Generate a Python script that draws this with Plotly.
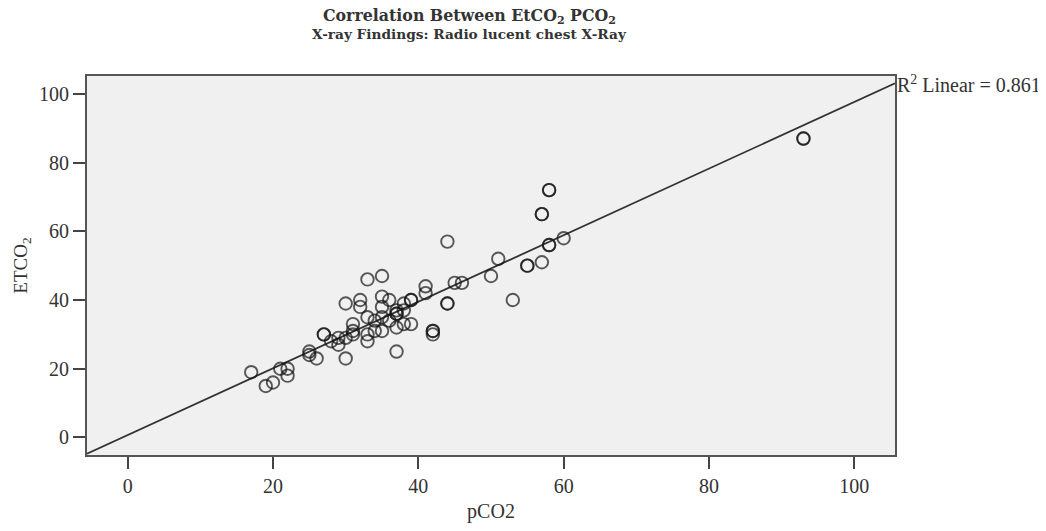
import numpy as np
import plotly.graph_objects as go

# Data (pCO2, ETCO2)
pco2 = [17, 19, 20, 21, 22, 22, 25, 25, 26, 27, 27, 28, 29, 29, 30, 30, 30,
        31, 31, 31, 32, 32, 33, 33, 33, 33, 34, 34, 35, 35, 35, 35, 35, 36, 36,
        37, 37, 37, 37, 37, 38, 38, 38, 39, 39, 39, 41, 41, 42, 42, 42, 44, 44,
        44, 45, 46, 50, 51, 53, 55, 55, 57, 57, 57, 58, 58, 58, 58, 60, 93, 93]
etco2 = [19, 15, 16, 20, 20, 18, 25, 24, 23, 30, 30, 28, 27, 29, 23, 29, 39,
         33, 31, 30, 40, 38, 46, 35, 28, 30, 34, 31, 47, 41, 38, 35, 31, 40, 34,
         36, 36, 37, 32, 25, 39, 33, 37, 40, 40, 33, 44, 42, 31, 30, 31, 57, 39,
         39, 45, 45, 47, 52, 40, 50, 50, 65, 65, 51, 72, 72, 56, 56, 58, 87, 87]

x_range = [-5.6, 105.6]
y_range = [-5.1, 105.2]
tick_vals = [0, 20, 40, 60, 80, 100]
r2_label = "R<sup>2</sup> Linear = 0.861"

slope, intercept = np.polyfit(pco2, etco2, 1)
fit_x = np.array(x_range)
fit_y = intercept + slope * fit_x

FONT = "Liberation Serif"
TITLE_FONT = "DejaVu Serif"
TXT = "#333333"
fig = go.Figure()
fig.add_trace(go.Scatter(
    x=fit_x, y=fit_y, mode="lines",
    line=dict(color="#333333", width=1.8), hoverinfo="skip", showlegend=False))
fig.add_trace(go.Scatter(
    x=pco2, y=etco2, mode="markers",
    marker=dict(symbol="circle-open", size=12.5, color="rgba(20,20,20,0.7)",
                line=dict(width=1.9)),
    showlegend=False))

axis_common = dict(
    showgrid=False, zeroline=False, showline=True, mirror=True,
    linecolor="#555555", linewidth=2, ticks="outside", ticklen=12,
    tickwidth=2, tickcolor="#444444", tickvals=tick_vals,
    tickfont=dict(family=FONT, size=20, color=TXT))

fig.update_xaxes(range=x_range, title=dict(text="pCO2", standoff=8,
                 font=dict(family=FONT, size=20, color=TXT)), **axis_common)
fig.update_yaxes(range=y_range, title=dict(text="ETCO<sub>2</sub>", standoff=6,
                 font=dict(family=FONT, size=19, color=TXT)), **axis_common)

fig.add_annotation(x=0.473, y=1.0, xref="paper", yref="paper", yanchor="middle",
                   yshift=60,
                   text="<b>Correlation Between EtCO<sub>2</sub> PCO<sub>2</sub></b>",
                   showarrow=False, font=dict(family=TITLE_FONT, size=15.8, color=TXT))
fig.add_annotation(x=0.473, y=1.0, xref="paper", yref="paper", yanchor="middle",
                   yshift=42,
                   text="<b>X-ray Findings: Radio lucent chest X-Ray</b>",
                   showarrow=False, font=dict(family=TITLE_FONT, size=13.7, color=TXT))
fig.add_annotation(x=1.0, y=1.0, xref="paper", yref="paper", xanchor="left",
                   yanchor="middle", yshift=-8, xshift=0, text=r2_label,
                   showarrow=False, font=dict(family=FONT, size=20, color=TXT))

# page has an 8px body margin, so the figure is offset by 8px
fig.update_layout(
    width=1038, height=523,
    margin=dict(l=77, r=151, t=68, b=69),
    plot_bgcolor="#F0F0F0", paper_bgcolor="white")
fig.write_html("out.html")
